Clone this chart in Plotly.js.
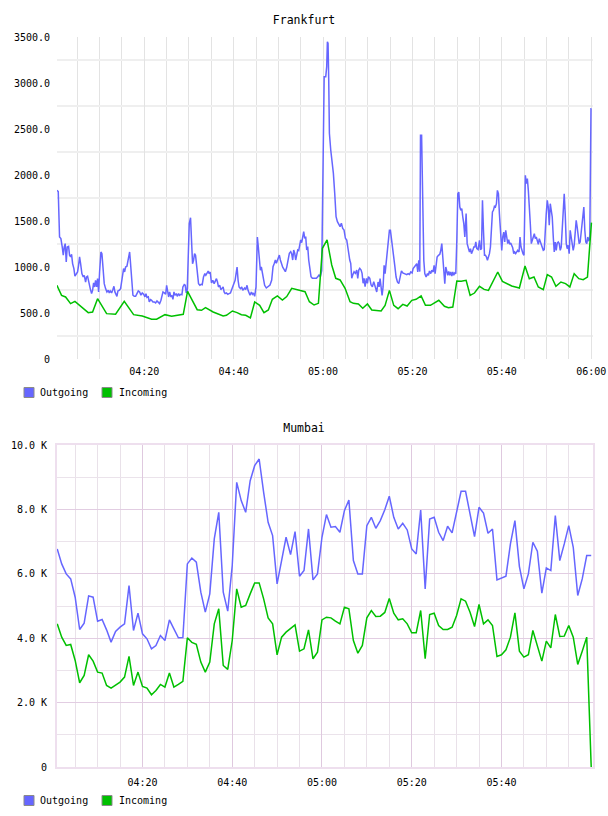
<!DOCTYPE html>
<html><head><meta charset="utf-8">
<script src="https://cdn.plot.ly/plotly-3.0.1.min.js"></script>
<style>body{margin:0;background:#fff}#fra,#mum{width:608px;height:408px}</style>
</head><body><div id="fra"></div><div id="mum"></div>
<script>
// ---------- DATA (time in minutes after 04:00) ----------
const seriesNames = ["Outgoing", "Incoming"];

// Frankfurt outgoing
const fraOutMin = [0.45,0.75,1.04,1.34,1.64,1.87,2.09,2.31,2.54,2.76,3.06,3.28,3.51,3.73,3.96,4.25,4.48,4.78,5.07,5.30,5.52,5.75,6.04,6.34,6.57,6.87,7.09,7.31,7.61,7.91,8.21,8.43,8.66,8.88,9.10,9.33,9.55,9.78,10.00,10.30,10.52,10.75,11.04,11.34,11.64,11.94,12.16,12.39,12.69,12.99,13.21,13.43,13.66,13.88,14.10,14.40,14.70,14.93,15.15,15.37,15.60,15.82,16.12,16.42,16.72,16.87,17.16,17.46,17.76,18.06,18.36,18.66,18.96,19.25,19.55,19.85,20.15,20.37,20.60,20.90,21.12,21.42,21.64,21.94,22.24,22.54,22.84,23.13,23.43,23.73,
24.18,24.48,24.78,25.00,25.22,25.45,25.67,25.97,26.19,26.41,26.64,26.86,27.16,27.38,27.68,27.90,28.20,28.42,28.64,28.94,29.16,29.39,29.61,30.06,30.35,30.58,30.80,31.02,31.25,31.47,31.69,31.91,32.14,32.43,32.73,32.96,33.25,33.55,33.77,34.07,34.29,34.52,34.74,35.04,35.33,35.63,35.93,36.15,36.38,36.60,36.90,37.12,37.34,37.64,37.86,38.09,38.38,38.68,38.98,39.28,39.50,39.80,40.02,40.32,40.54,40.76,40.99,41.21,41.51,41.80,42.03,42.25,42.47,42.70,42.99,43.22,43.44,43.66,43.96,44.18,44.41,44.70,45.00,45.30,45.52,45.74,45.97,46.19,46.41,46.64,46.93,47.30,47.68,
48.13,48.51,48.81,49.10,49.33,49.55,49.78,50.00,50.22,50.45,50.67,50.97,51.27,51.57,51.87,52.16,52.46,52.76,52.99,53.21,53.43,53.66,53.88,54.10,54.33,54.55,54.78,55.00,55.22,55.45,55.67,55.90,56.12,56.34,56.57,56.79,57.01,57.31,57.61,57.91,58.21,58.51,58.81,59.10,59.40,59.70,60.25,60.60,60.82,60.97,61.12,61.27,61.42,61.72,62.01,62.31,62.61,62.91,63.21,63.51,63.81,64.10,64.40,64.70,65.00,65.30,65.52,65.75,65.97,66.19,66.42,66.64,66.94,67.24,67.54,67.76,67.99,68.21,68.51,68.73,68.96,69.18,69.40,69.70,69.93,70.15,70.45,70.75,71.04,71.34,
71.79,72.01,72.31,72.54,72.76,72.99,73.21,73.43,73.66,73.88,74.10,74.33,74.55,74.85,75.07,75.30,75.60,75.82,76.04,76.34,76.64,76.94,77.24,77.54,77.84,78.13,78.43,78.73,79.03,79.33,79.63,79.93,80.15,80.45,80.75,80.97,81.19,81.42,81.64,81.80,82.05,82.35,82.54,82.76,83.06,83.36,83.58,83.81,84.10,84.33,84.63,84.85,85.07,85.30,85.52,85.82,86.12,86.34,86.57,86.79,87.01,87.24,87.46,87.69,87.91,88.13,88.36,88.58,88.81,89.03,89.25,89.48,89.70,89.93,90.15,90.37,90.60,90.82,91.04,91.27,91.49,91.72,91.87,92.01,92.24,92.54,92.76,92.99,93.21,93.51,93.73,93.96,94.18,94.40,94.70,
95.00,95.22,95.45,95.67,95.89,96.12,96.34,96.56,96.78,97.01,97.23,97.45,97.68,97.90,98.12,98.35,98.57,98.79,99.01,99.24,99.46,99.68,99.98,100.20,100.43,100.65,100.87,101.10,101.32,101.54,101.77,101.99,102.21,102.43,102.66,102.88,103.10,103.33,103.55,103.85,104.07,104.29,104.52,104.74,104.96,105.11,105.26,105.48,105.71,105.93,106.15,106.37,106.60,106.82,107.04,107.27,107.49,107.71,107.94,108.16,108.38,108.61,108.83,109.05,109.28,109.50,109.72,109.94,110.17,110.39,110.61,110.84,111.06,111.28,111.51,111.73,111.95,112.17,112.40,112.62,112.84,113.07,113.29,113.51,113.74,113.96,114.18,114.42,114.63,114.85,115.07,115.30,115.52,115.74,115.97,116.19,116.41,116.64,116.86,117.08,117.30,117.53,117.75,117.97,118.20,118.35,118.57,118.79,119.01,119.24,119.46,119.68,119.95,120.05];
const fraOutVal = [1833,1820,1327,1309,1218,1128,1218,1254,1055,1218,1225,1128,1110,1138,1037,983,900,929,946,1018,1110,1037,929,892,910,837,892,900,819,765,711,747,827,783,856,783,874,729,946,1163,1145,965,819,765,729,747,718,740,718,758,790,729,704,681,740,747,765,837,892,983,946,1000,1008,1073,1163,1073,856,693,681,681,711,740,729,693,718,704,675,711,668,675,620,645,638,620,620,609,631,620,602,638,
729,718,704,801,747,674,729,674,692,649,729,692,711,681,711,692,704,700,783,808,801,718,747,1471,1536,1290,1036,1072,1145,1127,1000,855,819,801,812,808,891,928,910,935,957,928,946,826,855,819,855,873,837,783,801,754,765,783,729,711,718,704,711,718,747,783,819,855,928,1000,855,783,765,783,747,765,772,754,801,747,711,692,729,704,718,681,783,1326,1217,1036,964,1000,928,855,801,772,783,
804,859,1004,1040,1076,1040,1076,1112,1130,1076,1040,997,975,949,997,1076,1149,1167,1141,1076,1185,1149,1076,1130,1185,1178,1221,1294,1265,1312,1384,1312,1330,1185,1221,1076,967,895,877,877,873,877,895,913,895,960,3069,3069,3178,3449,3431,3033,2453,2272,2163,2018,1801,1547,1493,1457,1439,1475,1420,1402,1312,1294,1221,1112,1076,1040,877,913,949,931,967,877,967,986,967,931,823,877,786,877,823,895,877,804,786,841,
747,728,837,783,873,783,692,783,1018,928,1054,1145,1236,1399,1399,1290,1217,1109,1018,891,837,819,891,957,935,928,920,917,928,920,946,935,982,1000,1018,1036,946,1073,950,2431,2431,1300,1073,928,891,928,910,957,928,964,946,1018,928,1018,1109,1127,1138,1181,1254,1109,928,819,1000,946,910,953,910,946,902,946,910,935,928,1290,1797,1815,1652,1616,1634,1543,1471,1326,1489,1580,1254,1199,1163,1199,1145,1181,1217,1217,1272,1199,1188,
1290,1188,1199,1725,1399,1127,1127,1109,1073,1109,1145,1217,1471,1598,1616,1660,1652,1688,1833,1797,1580,1399,1181,1326,1380,1272,1399,1326,1254,1297,1246,1261,1236,1210,1145,1163,1145,1174,1181,1163,1326,1217,1163,1145,1127,1978,1996,1906,1960,1833,1688,1471,1254,1308,1326,1362,1308,1326,1290,1246,1308,1272,1254,1199,1181,1188,1471,1580,1725,1652,1453,1688,1616,1544,1326,1163,1272,1181,1261,1272,1254,1181,1217,1435,1634,1797,1580,1254,1199,1236,1145,1399,1326,1217,1181,1236,1399,1507,1435,1326,1254,1272,1362,1471,1562,1652,1399,1272,1254,1326,1290,1300,2721,2721];

// Frankfurt incoming
const fraInMin = [0.45,1.49,2.39,3.51,4.48,7.46,8.43,9.55,11.57,13.58,15.52,17.61,19.55,21.64,22.76,24.63,26.12,28.72,29.68,31.84,32.81,33.70,35.41,37.64,38.38,39.72,40.76,41.73,42.70,43.74,44.70,45.82,46.78,47.76,48.66,49.78,50.90,51.87,52.99,54.33,55.97,56.94,57.99,58.96,59.85,60.90,61.94,62.84,63.81,64.93,66.04,66.79,67.91,68.88,69.93,70.90,72.99,73.88,74.85,75.82,76.79,77.84,78.81,79.85,80.82,81.94,82.91,84.03,85.90,87.16,88.06,89.03,89.93,90.90,92.01,92.91,93.88,95.00,96.04,97.01,99.09,100.13,101.47,102.21,103.92,105.19,106.15,107.19,108.16,109.28,110.17,111.13,112.10,113.22,114.26,115.22,116.19,117.23,118.20,119.16,120.05];
const fraInVal = [801,692,674,602,627,504,511,656,493,486,627,482,468,432,432,482,464,486,736,536,529,558,511,467,475,522,504,482,475,446,620,583,504,533,649,685,641,678,768,750,732,623,587,605,1203,1294,1022,877,859,768,623,605,598,551,598,533,522,583,746,583,547,594,576,638,649,685,583,583,638,573,558,565,848,844,855,692,717,790,757,746,946,844,812,793,772,1011,873,891,783,754,917,891,790,837,819,783,928,873,862,891,1482];

// Mumbai (one sample per minute, 04:01 .. 06:00)
const mumMin = Array.from({length: 120}, (_, i) => i + 1);
const mumOutVal = [6773,6307,5997,5842,5273,4270,4467,5315,5273,4529,4581,4260,3878,4208,4343,4446,5635,4239,4777,4136,3981,3671,3774,4084,3929,4570,4291,4012,4022,6307,6490,6359,5429,4808,5377,7083,7910,5429,4839,6256,8841,8272,7910,8892,9358,9565,8531,7600,7186,5687,6411,7135,6597,7310,5925,6101,7393,5811,5997,7135,7838,7445,7465,7290,7962,8293,6411,5997,5997,7497,7755,7414,7652,7990,8410,7755,7393,7569,7362,6773,6618,7982,5532,7703,7755,7290,7031,7476,7269,7962,8562,8562,7858,7155,8065,7889,7259,7393,5811,5873,5925,6928,7652,6225,5532,5997,6980,6700,5397,6183,6101,7807,6411,6928,7497,6824,5325,5842,6566,6566];
const mumInVal = [4446,4033,3774,3805,3309,2616,2844,3485,3288,2947,2916,2533,2451,2533,2637,2792,3433,2533,2947,2502,2451,2244,2378,2564,2482,2916,2482,2564,2657,4012,3870,3810,3257,2947,3257,4446,4912,3154,3030,3929,5532,4963,5015,5377,5718,5718,5222,4632,4446,3485,4033,4188,4291,4415,3598,3671,4260,3361,3567,4570,4653,4632,4529,4446,4963,4912,3929,3536,3774,4632,4860,4674,4684,4800,5232,4777,4570,4601,4446,4167,4167,4860,3361,4736,4777,4395,4270,4270,4343,4705,5222,5149,4808,4364,5046,4446,4570,4395,3433,3485,3640,4033,4787,3598,3412,3485,4239,3774,3288,3909,3702,4736,4053,4064,4395,4033,3185,3598,4033,0];

// Tick labels
const timeTickMin = [20, 40, 60, 80, 100, 120];
const timeTickText = ["04:20", "04:40", "05:00", "05:20", "05:40", "06:00"];
const fraYTicks = [0, 500, 1000, 1500, 2000, 2500, 3000, 3500];
const fraYText = ["0", "500.0", "1000.0", "1500.0", "2000.0", "2500.0", "3000.0", "3500.0"];
const mumYTicks = [0, 2000, 4000, 6000, 8000, 10000];
const mumYText = ["0", "2.0 K", "4.0 K", "6.0 K", "8.0 K", "10.0 K"];

// ---------- DRAWING ----------
const BASE = Date.UTC(2000, 0, 1, 4, 0, 0);
const T = m => BASE + m * 60000;
const FONT = "DejaVu Sans Mono";
const OUT_COLOR = "#6666ff", IN_COLOR = "#00c000";
const W = 608, H = 408, ML = 57, MR = 15, MT = 37, MB = 49;
const PW = W - ML - MR, PH = H - MT - MB;
const px = v => (v - ML) / PW;          // container px -> paper x
const py = v => (H - MB - v) / PH;      // container px -> paper y

function traces(outX, outY, inX, inY) {
  return [
    {x: outX.map(T), y: outY, type: "scatter", mode: "lines", name: seriesNames[0], line: {color: OUT_COLOR, width: 1.5}, showlegend: false, hoverinfo: "skip"},
    {x: inX.map(T), y: inY, type: "scatter", mode: "lines", name: seriesNames[1], line: {color: IN_COLOR, width: 1.5}, showlegend: false, hoverinfo: "skip"}
  ];
}

// legend (swatch + label) laid out like the original, below the plot
function legendParts() {
  const items = [{name: seriesNames[0], color: OUT_COLOR, sx: 24, tx: 38}, {name: seriesNames[1], color: IN_COLOR, sx: 102, tx: 117}];
  const shapes = items.map(it => ({type: "rect", xref: "paper", yref: "paper", x0: px(it.sx), x1: px(it.sx + 10), y0: py(397.5), y1: py(387.5),
    fillcolor: it.color, line: {color: "#8a8a8a", width: 1}, layer: "above"}));
  const annotations = items.map(it => ({text: it.name, xref: "paper", yref: "paper", x: px(it.tx), y: py(392.5), xanchor: "left", yanchor: "middle",
    showarrow: false, font: {family: FONT, size: 10, color: "#000"}}));
  return {shapes, annotations};
}

function layout(opts) {
  const majors = opts.xMajors;
  const minors = [];
  for (let m = 5; m < 120; m += 5) if (m % 20 !== 0) minors.push(T(m));
  const lg = legendParts();
  return {
    width: W, height: H,
    margin: {l: ML, r: MR, t: MT, b: MB, pad: 0},
    paper_bgcolor: "#ffffff", plot_bgcolor: "#ffffff",
    font: {family: FONT, size: 10, color: "#000"},
    title: {text: opts.title, x: 0.5, xref: "container", xanchor: "center", y: 1 - 20 / H, yref: "container", yanchor: "middle", font: {family: FONT, size: 11.5, color: "#000"}},
    showlegend: false,
    shapes: lg.shapes, annotations: lg.annotations,
    xaxis: {type: "date", range: [T(opts.x0), T(120.4)], tickmode: "array",
            tickvals: majors.map(T), ticktext: opts.xText, ticks: "", ticklabelstandoff: 5,
            showgrid: true, gridcolor: opts.xMajorGrid, gridwidth: 1,
            minor: {tickmode: "array", tickvals: minors, showgrid: true, gridcolor: opts.xMinorGrid, gridwidth: 1, ticks: ""},
            zeroline: false, showline: opts.frame, mirror: opts.frame, linecolor: "#eedfee", linewidth: 2,
            tickfont: {family: FONT, size: 10, color: "#000"}, fixedrange: true},
    yaxis: {range: opts.yRange, tickmode: "array", tickvals: opts.yTicks, ticktext: opts.yText, ticks: "", ticklabelstandoff: 6,
            showgrid: opts.yMajorGridShow, gridcolor: opts.yMajorGrid, gridwidth: 1,
            minor: {tickmode: "array", tickvals: opts.yMinors, showgrid: true, gridcolor: opts.yMinorGrid, gridwidth: opts.yMinorWidth, ticks: ""},
            zeroline: false, showline: opts.frame, mirror: opts.frame, linecolor: "#eedfee", linewidth: 2,
            tickfont: {family: FONT, size: 10, color: "#000"}, fixedrange: true}
  };
}

const cfg = {staticPlot: true, displayModeBar: false};

Plotly.newPlot("fra", traces(fraOutMin, fraOutVal, fraInMin, fraInVal), layout({
  title: "Frankfurt", x0: 0.47, xMajors: timeTickMin, xText: timeTickText,
  xMajorGrid: "#e3e3e3", xMinorGrid: "#e3e3e3", frame: false,
  yRange: [0, 3500], yTicks: fraYTicks, yText: fraYText, yMajorGridShow: false, yMajorGrid: "#f0f0f0",
  yMinors: [250, 750, 1250, 1750, 2250, 2750, 3250], yMinorGrid: "#efefef", yMinorWidth: 2
}), cfg);

Plotly.newPlot("mum", traces(mumMin, mumOutVal, mumMin, mumInVal), layout({
  title: "Mumbai", x0: 0.95, xMajors: timeTickMin.slice(0, 5), xText: timeTickText.slice(0, 5),
  xMajorGrid: "#dfc9df", xMinorGrid: "#e9e1e9", frame: true,
  yRange: [0, 10000], yTicks: mumYTicks, yText: mumYText, yMajorGridShow: true, yMajorGrid: "#e2cde2",
  yMinors: [1000, 3000, 5000, 7000, 9000], yMinorGrid: "#ebe3eb", yMinorWidth: 1
}), cfg);
</script>
</body></html>
